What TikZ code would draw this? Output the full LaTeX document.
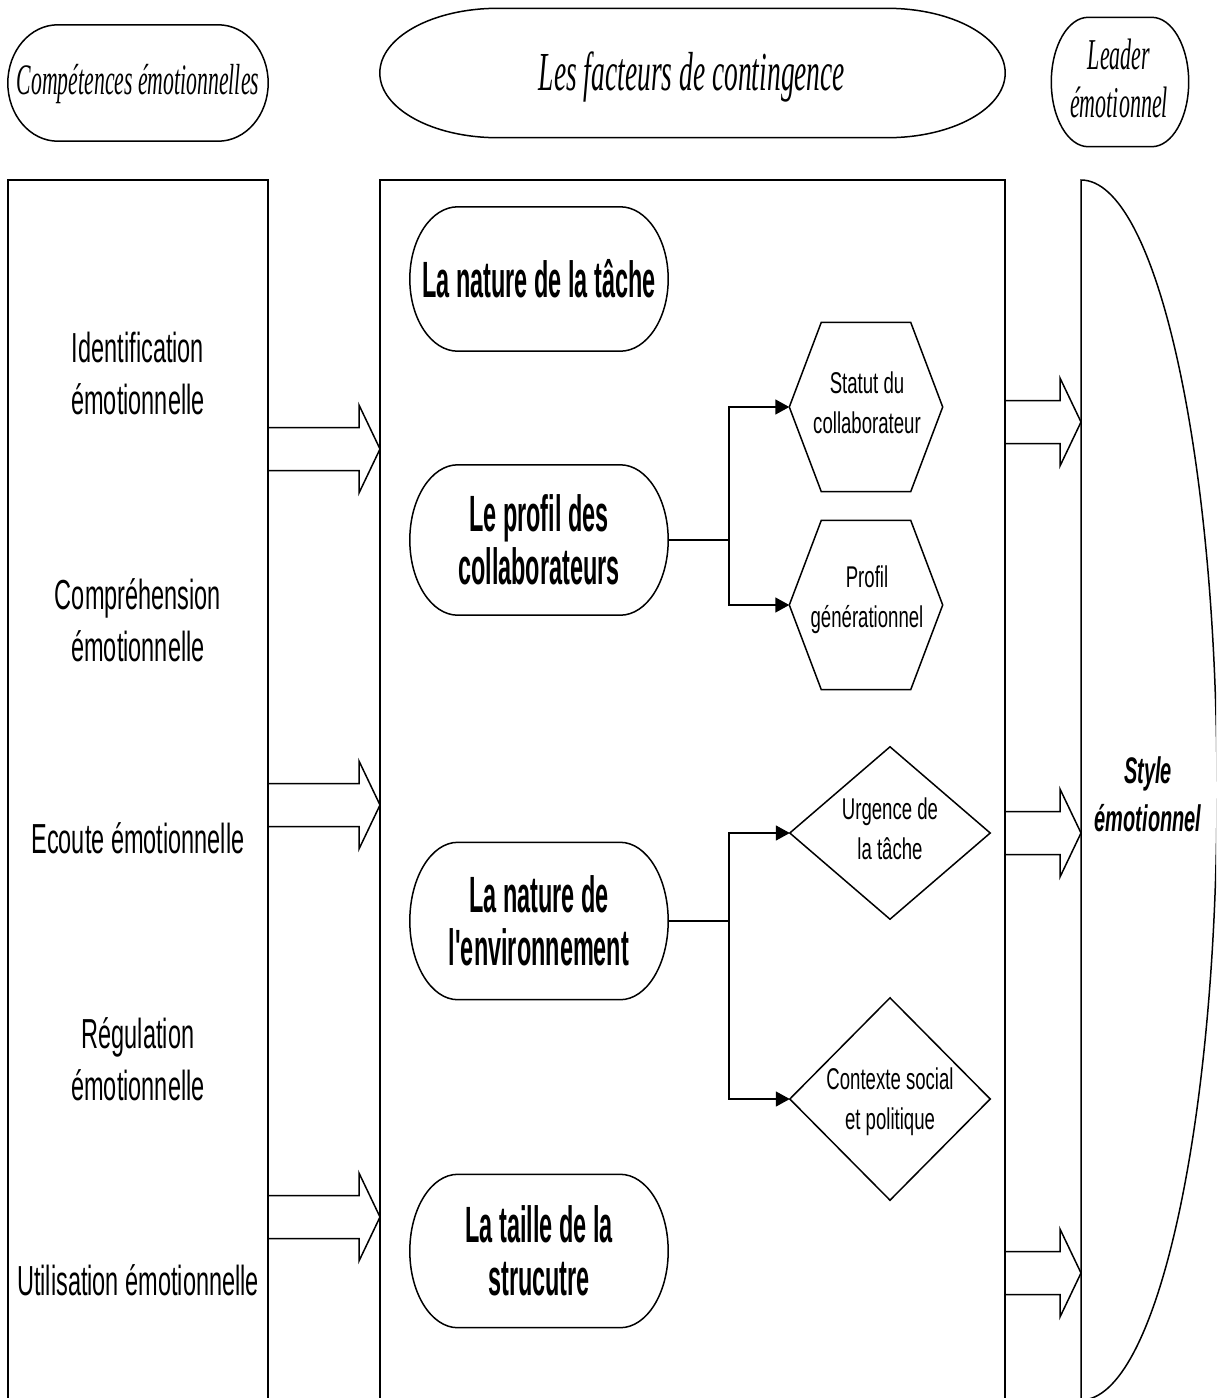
\documentclass[tikz,border=0pt]{standalone}
\usepackage{fontspec}
\usetikzlibrary{calc,arrows.meta}
\newfontfamily\lsans[FakeStretch=0.56]{Liberation Sans}
\newfontfamily\bsans[FakeStretch=0.46]{Liberation Sans}
\newfontfamily\ssans[FakeStretch=0.62]{Liberation Sans}
\newfontfamily\stsans[FakeStretch=0.54]{Liberation Sans}
\newfontfamily\tserif[FakeStretch=0.5]{Liberation Serif}
\tikzset{
  line/.style={line width=1.5pt, black},
  box/.style={rectangle, draw=none, inner sep=0pt, align=center},
  lefttxt/.style={box, font=\lsans\fontsize{42}{52}\selectfont},
  boldtxt/.style={box, font=\bsans\bfseries\fontsize{51}{53}\selectfont},
  smalltxt/.style={box, font=\ssans\fontsize{30}{40}\selectfont},
  titletxt/.style={box, font=\tserif\itshape\fontsize{43.5}{48}\selectfont},
  conn/.style={line, -{Triangle[length=14pt,width=15pt]}},
}
\newcommand\stad[2]{\draw[line] let \p1=(#1.north west), \p2=(#1.south east), \n1={(\y1-\y2)/2} in
  (\x1+#2,\y1) -- (\x2-#2,\y1) arc[start angle=90, end angle=-90, x radius=#2, y radius=\n1]
  -- (\x1+#2,\y2) arc[start angle=270, end angle=90, x radius=#2, y radius=\n1] -- cycle;}
\newcommand\hexa[2]{\draw[line] ([xshift=#2]#1.north west) -- ([xshift=-#2]#1.north east) -- (#1.east)
  -- ([xshift=-#2]#1.south east) -- ([xshift=#2]#1.south west) -- (#1.west) -- cycle;}
\newcommand\diam[1]{\draw[line] (#1.north) -- (#1.east) -- (#1.south) -- (#1.west) -- cycle;}
\newcommand\barrow[4]{\draw[line] (#1,#4+21.5) -- (#2,#4+21.5) -- (#2,#4+44) -- (#3,#4) -- (#2,#4-44) -- (#2,#4-21.5) -- (#1,#4-21.5);}
\begin{document}
\begin{tikzpicture}[x=1pt,y=1pt]
\useasboundingbox (0,0) rectangle (1216,-1398);
\clip (0,0) rectangle (1216,-1398);
\fill[white] (0,0) rectangle (1216,-1398);

% top titles
\node[box, minimum width=260pt, minimum height=116pt] (comp) at (138,-83) {};
\node[titletxt] at (138,-84) {Compétences émotionnelles};
\stad{comp}{50pt}
\node[box, minimum width=625pt, minimum height=129pt] (fact) at (692.5,-73) {};
\node[titletxt, font=\tserif\itshape\fontsize{55}{60}\selectfont] at (692,-77) {Les facteurs de contingence};
\stad{fact}{118pt}
\node[box, minimum width=137pt, minimum height=129pt] (lead) at (1120,-82) {};
\node[titletxt, font=\tserif\itshape\fontsize{44}{48}\selectfont] at (1119,-78) {Leader\\émotionnel};
\stad{lead}{37pt}

% columns
\draw[line] (8,-1402) -- (8,-180) -- (268,-180) -- (268,-1402);
\draw[line] (380,-1402) |- (1005,-180) -- (1005,-1402);
\draw[line] (1081,-1402) -- (1081,-180) arc[start angle=90, end angle=-90, x radius=136, y radius=610];

% left texts
\node[lefttxt] (c1) at (138,-373) {Identification\\émotionnelle};
\node[lefttxt] (c2) at (138,-620) {Compréhension\\émotionnelle};
\node[lefttxt] (c3) at (138,-838) {Ecoute émotionnelle};
\node[lefttxt] (c4) at (138,-1059) {Régulation\\émotionnelle};
\node[lefttxt] (c5) at (138,-1280) {Utilisation émotionnelle};

% block arrows
\barrow{268}{359}{380}{-449}
\barrow{268}{359}{380}{-805}
\barrow{268}{359}{380}{-1217}
\barrow{1005}{1060}{1081}{-422}
\barrow{1005}{1060}{1081}{-833}
\barrow{1005}{1060}{1081}{-1273}

% middle stadiums
\node[boldtxt, minimum width=258pt, minimum height=144pt] (nat) at (539,-279) {La nature de la tâche};
\stad{nat}{48pt}
\node[boldtxt, minimum width=258pt, minimum height=150pt] (prof) at (539,-540) {Le profil des\\collaborateurs};
\stad{prof}{48pt}
\node[boldtxt, minimum width=258pt, minimum height=157pt] (env) at (539,-921) {La nature de\\l'environnement};
\stad{env}{48pt}
\node[boldtxt, minimum width=258pt, minimum height=153pt] (tail) at (539,-1251) {La taille de la\\strucutre};
\stad{tail}{48pt}

% hexagons
\node[smalltxt, minimum width=153pt, minimum height=169pt] (stat) at (866,-407) {};
\node[smalltxt] at (867,-403) {Statut du\\collaborateur};
\hexa{stat}{32pt}
\node[smalltxt, minimum width=153pt, minimum height=169pt] (gen) at (866,-605) {};
\node[smalltxt] at (867,-600) {Profil\\générationnel};
\hexa{gen}{32pt}

% diamonds
\node[smalltxt, minimum width=200pt, minimum height=172pt] (urg) at (890,-833) {};
\node[smalltxt] at (890,-829) {Urgence de\\la tâche};
\diam{urg}
\node[smalltxt, minimum width=200pt, minimum height=202pt] (ctx) at (890,-1099) {};
\node[smalltxt] at (890,-1102) {Contexte social\\et politique};
\diam{ctx}

% connectors
\coordinate (j1) at ([xshift=61pt]prof.east);
\draw[line] (prof.east) -- (j1);
\draw[conn] (j1) |- (stat.west);
\draw[conn] (j1) |- (gen.west);
\coordinate (j2) at ([xshift=61pt]env.east);
\draw[line] (env.east) -- (j2);
\draw[conn] (j2) |- (urg.west);
\draw[conn] (j2) |- (ctx.west);

% right label
\node[box, font=\stsans\bfseries\itshape\fontsize{37}{48}\selectfont] (style) at (1148,-794) {Style\\émotionnel};
\end{tikzpicture}
\end{document}
